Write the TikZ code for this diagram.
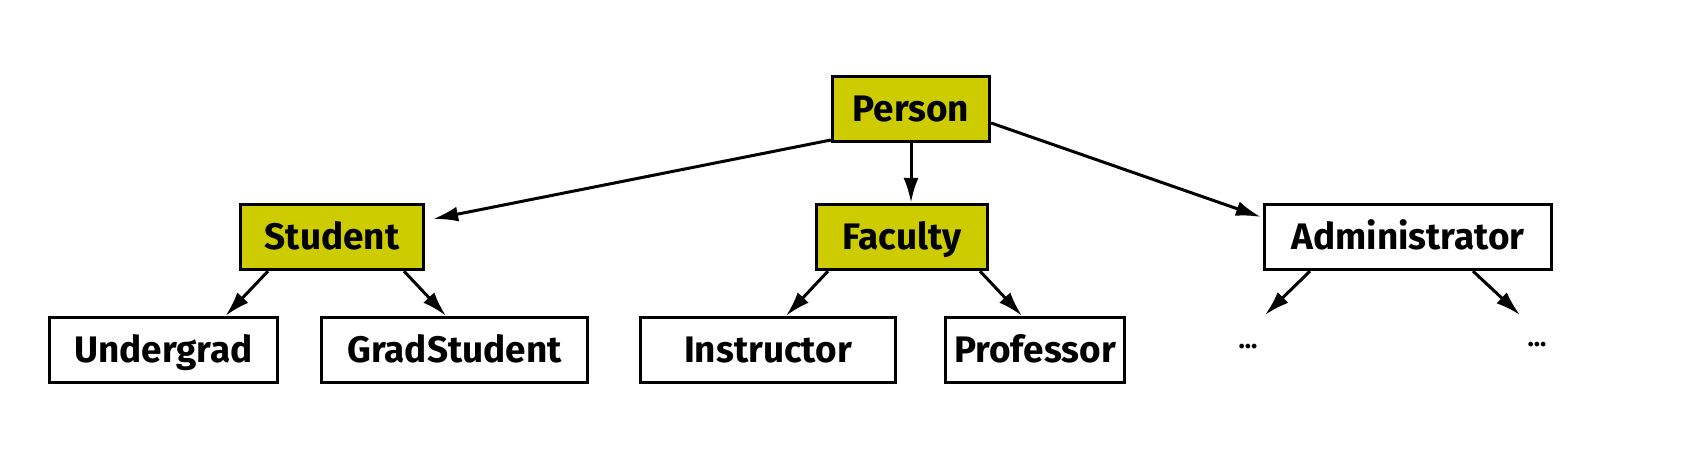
\documentclass[tikz,border=0pt]{standalone}
\usepackage{fontspec}
\setsansfont{Fira Sans}
\usepackage{xcolor}
\usetikzlibrary{arrows.meta}
\definecolor{kindfill}{RGB}{204,204,0}

\begin{document}
\begin{tikzpicture}[x=0.2mm,y=-0.2mm,
  box/.style={draw, line width=0.65mm, minimum height=13mm, inner sep=0pt,
    text height=14.5pt, text depth=0pt,
    font=\sffamily\bfseries\fontsize{21}{25}\selectfont},
  hibox/.style={box, fill=kindfill},
  arr/.style={line width=0.6mm, -{Latex[length=5mm,width=3mm]}},
  etc/.style={font=\sffamily\bfseries\fontsize{15}{17}\selectfont}]
\useasboundingbox (0,0) rectangle (1702,470);

% ========= 顶层 =========
\node[hibox, minimum width=31.4mm] (person) at (911,109) {Person};

% ========= 第二层 =========
\node[hibox, minimum width=36.6mm] (student) at (332,237) {Student};
\node[hibox, minimum width=34.2mm] (faculty) at (902,237) {Faculty};
\node[box, minimum width=57.4mm] (admin) at (1408,237) {Administrator};

% ========= 第三层 =========
\node[box, minimum width=45.6mm] (ugrad) at (163.5,350) {Undergrad};
\node[box, minimum width=53.2mm] (grad) at (454.5,350) {GradStudent};
\node[box, minimum width=51mm] (instr) at (768,350) {Instructor};
\node[box, minimum width=35.8mm] (prof) at (1035,350) {Professor};
\node[etc] (etcl) at (1248,347) {...};
\node[etc] (etcr) at (1537,345) {...};
\coordinate (etcltip) at (1265,315);
\coordinate (etcrtip) at (1520,315);

% ========= 连线 =========
\draw[arr] ([shift={(0,31)}]person.west) -- ([shift={(8,-18)}]student.east);
\draw[arr] (person.south) -- (person.south |- faculty.north);
\draw[arr] ([shift={(0,14)}]person.east) -- ([shift={(-2,-20)}]admin.west);

\draw[arr] ([shift={(-64,0)}]student.south) -- ([shift={(62,0)}]ugrad.north);
\draw[arr] ([shift={(72,0)}]student.south) -- ([shift={(-8.5,0)}]grad.north);
\draw[arr] ([shift={(-74,0)}]faculty.south) -- ([shift={(18,0)}]instr.north);
\draw[arr] ([shift={(78,0)}]faculty.south) -- ([shift={(-13,0)}]prof.north);
\draw[arr] ([shift={(-98,0)}]admin.south) -- (etcltip);
\draw[arr] ([shift={(65,0)}]admin.south) -- (etcrtip);
\end{tikzpicture}
\end{document}
